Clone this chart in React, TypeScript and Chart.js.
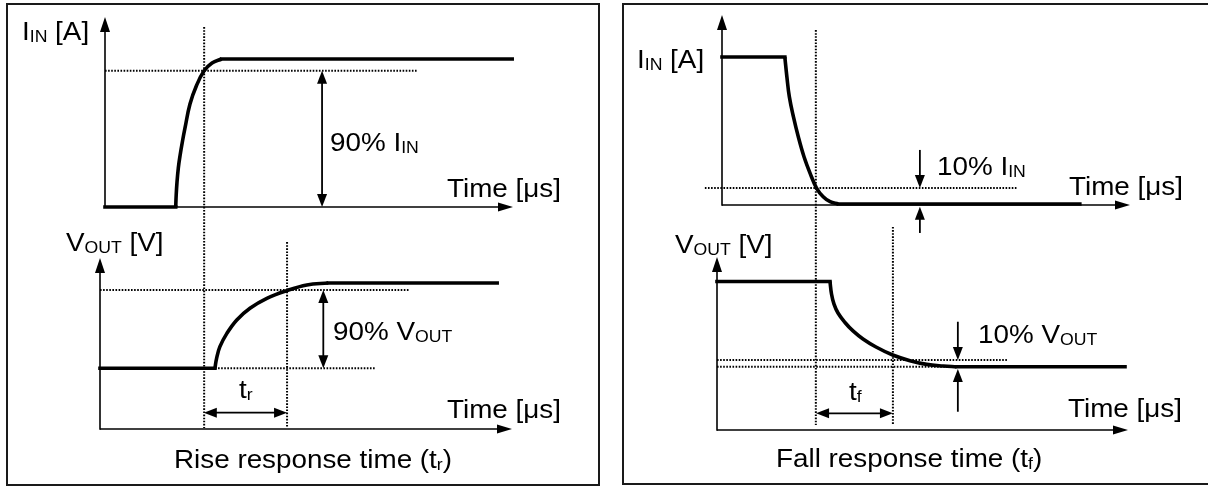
import React, { useEffect, useRef } from "react";
import { Chart, registerables } from "chart.js";

Chart.register(...registerables);

const W = 1208;
const H = 486;

// ---------- DATA (time: 0..100 = axis length, amplitude: 100 = high level) ----------
// Left panel, top: I_IN rising
const riseInT = [0, 17.33, 17.45, 17.65, 17.97, 18.38, 19.0, 19.61, 20.83, 22.48, 24.26, 26.23, 28.6, 99.8];
const riseInA = [0, 0, 8.1, 16.9, 26.4, 34.5, 44.6, 53.4, 69.6, 82.4, 91.9, 97.3, 100, 100];
// Left panel, bottom: V_OUT rising
const riseOutT = [0, 27.9, 28.3, 29.1, 30.8, 33.2, 36.4, 40.5, 45.3, 50.2, 55.4, 96.4];
const riseOutA = [41.6, 41.6, 48.4, 56.4, 65.5, 74.7, 82.7, 89.5, 94.7, 98.6, 100, 100];
// Right panel, top: I_IN falling
const fallInT = [0, 15.4, 15.9, 16.5, 17.5, 18.7, 20.1, 21.6, 23.2, 24.8, 26.5, 28.5, 87.7];
const fallInA = [100, 100, 86.7, 73.2, 59.7, 46.1, 32.6, 21.4, 11.3, 5.6, 2.2, 0.7, 0.7];
// Right panel, bottom: V_OUT falling
const fallOutT = [0, 27.49, 27.86, 28.47, 29.44, 31.14, 33.09, 35.52, 38.69, 42.75, 46.96, 51.02, 55.06, 58.32, 99.27];
const fallOutA = [100, 100, 91.6, 84.8, 78.8, 72.4, 66.7, 61.3, 55.9, 50.5, 46.7, 44.2, 43.1, 42.6, 42.6];

// Threshold (dotted) levels
const thresholdFrames = ["LT", "LB", "LB", "RT", "RB", "RB"];
const thresholdLevels = [92, 95.2, 41.6, 11.5, 47.1, 42.6];
const thresholdStart = [0, 0, 27.9, -4.2, 0, 0];
const thresholdEnd = [76.7, 75.2, 66.7, 72.5, 70.6, 58.3];

// Time markers (dotted verticals)
const markerFrames = ["LT", "LB", "RT", "RB"];
const markerTimes = [24.3, 45.4, 23.0, 42.8];
const markerTop = [121.6, 128, 118.2, 136.7];
const markerBottom = [-149.3, 0.7, -148.6, 3.4];

// Axis extents (time end, amplitude end)
const axisFrames = ["LT", "LB", "RT", "RB"];
const axisTimeEnd = [100, 100, 100, 100];
const axisAmpEnd = [128.4, 117.1, 128.4, 116.5];

// Dimension arrows
const arrowFrames = ["LT", "LB", "LB", "RT", "RT", "RB", "RB", "RB"];
const arrowT1 = [53.2, 54.2, 25.2, 48.5, 48.5, 58.6, 58.6, 24.1];
const arrowA1 = [92, 95.2, 11.2, 37.2, -18.9, 72.9, 12.3, 11.2];
const arrowT2 = [53.2, 54.2, 45.4, 48.5, 48.5, 58.6, 58.6, 42.8];
const arrowA2 = [0, 41.6, 11.2, 11.5, -1.1, 47.1, 41.1, 11.2];
const arrowBoth = [true, true, true, false, false, false, false, true];

// Text labels: parts [text, isSubscript]
type Part = [string, boolean];
const labelTexts: Part[][] = [
  [["I", false], ["IN", true], [" [A]", false]],
  [["90% I", false], ["IN", true]],
  [["Time [μs]", false]],
  [["V", false], ["OUT", true], [" [V]", false]],
  [["90% V", false], ["OUT", true]],
  [["t", false], ["r", true]],
  [["Time [μs]", false]],
  [["Rise response time (t", false], ["r", true], [")", false]],
  [["I", false], ["IN", true], [" [A]", false]],
  [["10% I", false], ["IN", true]],
  [["Time [μs]", false]],
  [["V", false], ["OUT", true], [" [V]", false]],
  [["t", false], ["f", true]],
  [["10% V", false], ["OUT", true]],
  [["Time [μs]", false]],
  [["Fall response time (t", false], ["f", true], [")", false]],
];

// ---------- LAYOUT ----------
const FRAMES: Record<string, { ox: number; oy: number; sx: number; sy: number }> = {
  LT: { ox: 105, oy: 207, sx: 4.08, sy: 1.48 },
  LB: { ox: 100, oy: 429, sx: 4.12, sy: 1.46 },
  RT: { ox: 722, oy: 205, sx: 4.08, sy: 1.48 },
  RB: { ox: 717, oy: 430, sx: 4.11, sy: 1.485 },
};
const labelPos: [number, number][] = [
  [22, 40], [330, 151], [447, 197], [66, 251], [333, 340], [239, 398], [447, 418], [174, 468],
  [637, 68], [937, 175], [1069, 195], [675, 253], [849, 400], [978, 343], [1068, 417], [776, 467],
];
const FONT = "Arial, 'Liberation Sans', Helvetica, sans-serif";
const MAIN_SIZE = 26;
const SUB_SIZE = 16.5;
const STRETCH = 1.07;

function pts(xs: number[], ys: number[]) {
  return xs.map((x, i) => ({ x, y: ys[i] }));
}

function ds(frame: string, data: { x: number; y: number }[], kind: "wave" | "curve" | "dot") {
  return {
    data,
    xAxisID: "x" + frame,
    yAxisID: "y" + frame,
    borderColor: "#000",
    backgroundColor: "#000",
    borderWidth: kind === "dot" ? 2 : 3.6,
    borderDash: kind === "dot" ? [1.6, 1.5] : [],
    borderCapStyle: kind === "wave" ? "square" : "butt",
    borderJoinStyle: "miter",
    pointRadius: 0,
    fill: false,
    tension: kind === "curve" ? 0.4 : 0,
  };
}

// a waveform = flat part, curved transition, flat part
function waveSets(frame: string, ts: number[], as: number[]) {
  const p = pts(ts, as);
  const n = p.length;
  return [
    ds(frame, p.slice(0, 2), "wave"),
    ds(frame, p.slice(1, n - 1), "curve"),
    ds(frame, p.slice(n - 2), "wave"),
  ];
}

function arrowHead(ctx: CanvasRenderingContext2D, x1: number, y1: number, x2: number, y2: number, len: number, wid: number) {
  const ang = Math.atan2(y2 - y1, x2 - x1);
  const c = Math.cos(ang), s = Math.sin(ang);
  const bx = x2 - c * len, by = y2 - s * len;
  ctx.beginPath();
  ctx.moveTo(x2, y2);
  ctx.lineTo(bx - s * wid / 2, by + c * wid / 2);
  ctx.lineTo(bx + s * wid / 2, by - c * wid / 2);
  ctx.closePath();
  ctx.fill();
}

function drawArrow(ctx: CanvasRenderingContext2D, x1: number, y1: number, x2: number, y2: number, both: boolean, len: number, wid: number, lw: number) {
  const d = Math.hypot(x2 - x1, y2 - y1);
  const ux = (x2 - x1) / d, uy = (y2 - y1) / d;
  const sx = both ? x1 + ux * (len - 2) : x1;
  const sy = both ? y1 + uy * (len - 2) : y1;
  ctx.lineWidth = lw;
  ctx.beginPath();
  ctx.moveTo(sx, sy);
  ctx.lineTo(x2 - ux * (len - 2), y2 - uy * (len - 2));
  ctx.stroke();
  arrowHead(ctx, x1, y1, x2, y2, len, wid);
  if (both) arrowHead(ctx, x2, y2, x1, y1, len, wid);
}

function drawRich(ctx: CanvasRenderingContext2D, parts: Part[], x: number, y: number) {
  let cx = x;
  for (const [txt, sub] of parts) {
    ctx.font = `${sub ? SUB_SIZE : MAIN_SIZE}px ${FONT}`;
    ctx.save();
    ctx.translate(cx, sub ? y + 1.5 : y);
    ctx.scale(STRETCH, 1);
    ctx.fillText(txt, 0, 0);
    ctx.restore();
    cx += ctx.measureText(txt).width * STRETCH;
  }
}

const diagramPlugin = {
  id: "diagram",
  beforeDatasetsDraw(chart: any) {
    const ctx: CanvasRenderingContext2D = chart.ctx;
    ctx.save();
    ctx.strokeStyle = "#1a1a1a";
    ctx.lineWidth = 2;
    ctx.strokeRect(7, 4, 592, 481);
    ctx.beginPath();
    ctx.moveTo(W + 2, 4);
    ctx.lineTo(623, 4);
    ctx.lineTo(623, 484);
    ctx.lineTo(W + 2, 484);
    ctx.stroke();
    ctx.strokeStyle = "#000";
    ctx.fillStyle = "#000";
    axisFrames.forEach((f, i) => {
      const xs = chart.scales["x" + f];
      const ys = chart.scales["y" + f];
      const x0 = xs.getPixelForValue(0);
      const y0 = ys.getPixelForValue(0);
      const xe = xs.getPixelForValue(axisTimeEnd[i]);
      const ye = ys.getPixelForValue(axisAmpEnd[i]);
      drawArrow(ctx, x0, y0, xe, y0, false, 15, 9, 1.6);
      drawArrow(ctx, x0, y0 + 0.8, x0, ye, false, 15, 10, 1.6);
    });
    ctx.restore();
  },
  afterDatasetsDraw(chart: any) {
    const ctx: CanvasRenderingContext2D = chart.ctx;
    ctx.save();
    ctx.strokeStyle = "#000";
    ctx.fillStyle = "#000";
    arrowFrames.forEach((f, i) => {
      const xs = chart.scales["x" + f];
      const ys = chart.scales["y" + f];
      const x1 = xs.getPixelForValue(arrowT1[i]);
      const y1 = ys.getPixelForValue(arrowA1[i]);
      const x2 = xs.getPixelForValue(arrowT2[i]);
      const y2 = ys.getPixelForValue(arrowA2[i]);
      drawArrow(ctx, x1, y1, x2, y2, arrowBoth[i], 13, 10, 1.8);
    });
    ctx.textBaseline = "alphabetic";
    labelTexts.forEach((parts, i) => drawRich(ctx, parts, labelPos[i][0], labelPos[i][1]));
    ctx.restore();
  },
};

export default function App() {
  const ref = useRef<HTMLCanvasElement>(null);
  useEffect(() => {
    if (!ref.current) return;
    const scales: any = {
      x: { type: "linear", display: false },
      y: { type: "linear", display: false },
    };
    Object.keys(FRAMES).forEach((k) => {
      const f = FRAMES[k];
      scales["x" + k] = { type: "linear", display: false, bounds: "data", min: -f.ox / f.sx, max: (W - f.ox) / f.sx };
      scales["y" + k] = { type: "linear", display: false, bounds: "data", min: (f.oy - H) / f.sy, max: f.oy / f.sy };
    });
    const datasets: any[] = [
      ...thresholdFrames.map((f, i) =>
        ds(f, [{ x: thresholdStart[i], y: thresholdLevels[i] }, { x: thresholdEnd[i], y: thresholdLevels[i] }], "dot")
      ),
      ...markerFrames.map((f, i) =>
        ds(f, [{ x: markerTimes[i], y: markerTop[i] }, { x: markerTimes[i], y: markerBottom[i] }], "dot")
      ),
      ...waveSets("LT", riseInT, riseInA),
      ...waveSets("LB", riseOutT, riseOutA),
      ...waveSets("RT", fallInT, fallInA),
      ...waveSets("RB", fallOutT, fallOutA),
    ];
    const chart = new Chart(ref.current, {
      type: "line",
      data: { datasets },
      options: {
        responsive: false,
        maintainAspectRatio: false,
        devicePixelRatio: 1,
        animation: false,
        events: [],
        layout: { padding: 0 },
        scales,
        plugins: { legend: { display: false }, tooltip: { enabled: false }, title: { display: false } },
      } as any,
      plugins: [diagramPlugin],
    });
    return () => chart.destroy();
  }, []);
  return (
    <div style={{ position: "fixed", left: 0, top: 0, width: W, height: H, background: "#fff" }}>
      <canvas ref={ref} width={W} height={H} style={{ display: "block", width: W, height: H }} />
    </div>
  );
}
